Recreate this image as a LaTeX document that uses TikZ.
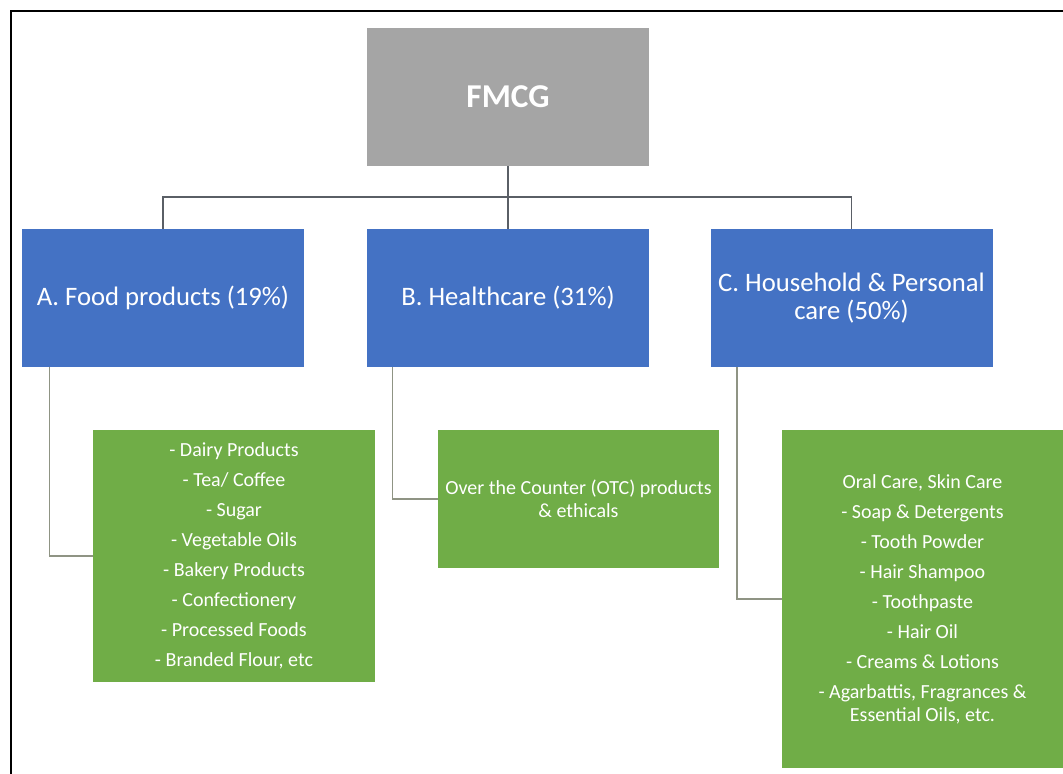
\documentclass[tikz,border=0pt]{standalone}
\usepackage{fontspec}
\setmainfont{Carlito}
\definecolor{fmcggray}{HTML}{A5A5A5}
\definecolor{fmcgblue}{HTML}{4472C4}
\definecolor{fmcggreen}{HTML}{70AD47}
\definecolor{topline}{HTML}{5A5F66}
\definecolor{subline}{HTML}{8F9484}
\begin{document}
\begin{tikzpicture}[x=0.75pt,y=-0.75pt,
  box/.style={inner sep=0pt,text=white,align=center},
  headbox/.style={box,fill=fmcggray,minimum width=211.5pt,minimum height=103.5pt,font=\fontsize{25}{30}\selectfont\bfseries},
  groupbox/.style={box,fill=fmcgblue,minimum width=211.5pt,minimum height=103.5pt,font=\fontsize{20}{20.5}\selectfont},
  listbox/.style={box,fill=fmcggreen,minimum width=211pt,font=\fontsize{15}{17}\selectfont},
  link/.style={draw=topline,line width=1.1pt},
  sublink/.style={draw=subline,line width=1.1pt}]
\useasboundingbox (0,0) rectangle (1063,774);
\draw[line width=1.6pt](11,774)--(11,11)--(1063,11);
\node[headbox] (fmcg) at (508,97) {FMCG};
\node[groupbox] (food) at (163,298) {A. Food products (19\%)};
\node[groupbox] (health) at (508,298) {B. Healthcare (31\%)};
\node[groupbox] (house) at (851.5,298) {C. Household \& Personal\\care (50\%)};
\node[listbox,minimum height=189pt] (foodlist) at (234,556) {- Dairy Products\\[5.5pt]- Tea/ Coffee\\[5.5pt]- Sugar\\[5.5pt]- Vegetable Oils\\[5.5pt]- Bakery Products\\[5.5pt]- Confectionery\\[5.5pt]- Processed Foods\\[5.5pt]- Branded Flour, etc};
\node[listbox,minimum height=103.5pt] (healthlist) at (578.5,499) {Over the Counter (OTC) products\\\& ethicals};
\node[listbox,minimum height=253.5pt] (houselist) at (922.5,599) {Oral Care, Skin Care\\[5.5pt]- Soap \& Detergents\\[5.5pt]- Tooth Powder\\[5.5pt]- Hair Shampoo\\[5.5pt]- Toothpaste\\[5.5pt]- Hair Oil\\[5.5pt]- Creams \& Lotions\\[5.5pt]- Agarbattis, Fragrances \&\\Essential Oils, etc.};
\coordinate (bar) at (508,197);
\draw[link](fmcg.south)--(health.north);
\draw[link](food.north)|-(bar)-|(house.north);
\draw[sublink]([xshift=21pt]food.south west)|-(foodlist.west);
\draw[sublink]([xshift=19.5pt]health.south west)|-(healthlist.west);
\draw[sublink]([xshift=20pt]house.south west)|-(houselist.west);
\end{tikzpicture}
\end{document}
